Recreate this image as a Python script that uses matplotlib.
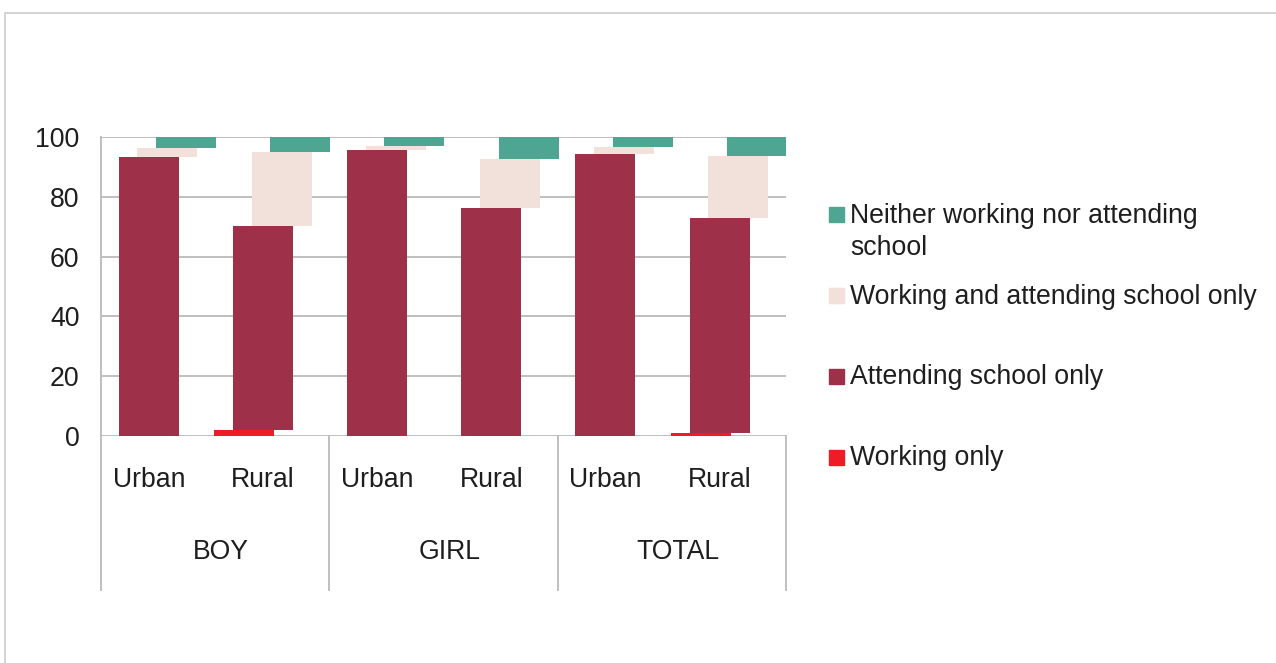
import numpy as np
import matplotlib
matplotlib.use("Agg")
import matplotlib.pyplot as plt
from matplotlib.lines import Line2D
from matplotlib.patches import Rectangle

# ---- data ----
groups = ["BOY", "GIRL", "TOTAL"]
areas = ["Urban", "Rural"]
categories = ["Urban", "Rural", "Urban", "Rural", "Urban", "Rural"]
series_names = ["Working only", "Attending school only",
                "Working and attending school only",
                "Neither working nor attending school"]
working_only = [0.0, 2.0, 0.0, 0.0, 0.0, 1.0]
attending_only = [93.3, 68.3, 95.7, 76.3, 94.3, 72.0]
working_attending = [3.0, 24.7, 1.3, 16.4, 2.4, 20.7]
neither = [3.7, 5.0, 3.0, 7.3, 3.3, 6.3]
yticks = [0, 20, 40, 60, 80, 100]

colors = ["#EE1C25", "#9E3149", "#F2E0DB", "#4DA592"]
text_color = "#1E1E1E"
grid_color = "#BFBFBF"

plt.rcParams['font.family'] = ['Liberation Sans', 'DejaVu Sans']
FS = 19.2

W, H = 1276, 663
fig = plt.figure(figsize=(W / 100, H / 100), dpi=100)
fig.patch.set_facecolor("white")

left, right, top, bottom = 101, 786, 137, 436
ax = fig.add_axes([left / W, 1 - bottom / H, (right - left) / W, (bottom - top) / H])

n = len(categories)
x = np.arange(n) + 0.5
width = 0.5255
offsets = [-0.245, -0.082, 0.082, 0.245]
values = [working_only, attending_only, working_attending, neither]
base = np.zeros(n)
for vals, off, col in zip(values, offsets, colors):
    v = np.array(vals)
    ax.bar(x + off, v, width=width, bottom=base, color=col, zorder=3, linewidth=0)
    base = base + v

ax.set_xlim(0, n)
ax.set_ylim(0, 100)
ax.set_yticks(yticks)
ax.set_yticklabels([str(t) for t in yticks], fontsize=FS, color=text_color)
ax.tick_params(axis='y', length=0, pad=15.5)
ax.set_xticks([])
for s in ax.spines.values():
    s.set_visible(False)
ax.yaxis.grid(True, color=grid_color, linewidth=1.4, zorder=0)
ax.set_axisbelow(True)

# axis frame lines (multi-level category axis)
lo = (bottom - 590) / (bottom - top)
trans = ax.get_xaxis_transform()
for xs in [0, 2, 4, 6]:
    ax.add_line(Line2D([xs, xs], [lo, 0 if xs != 0 else 1], transform=trans,
                       color=grid_color, linewidth=1.4, clip_on=False, zorder=4))

# category labels
cat_y = (bottom - 480) / (bottom - top)
grp_y = (bottom - 552) / (bottom - top)
for xi, lab in zip(x, categories):
    ax.text(xi - 0.08, cat_y, lab, transform=trans, ha='center', va='center',
            fontsize=FS, color=text_color)
for gi, g in enumerate(groups):
    ax.text(2 * gi + 1 + 0.05, grp_y, g, transform=trans, ha='center', va='center',
            fontsize=FS, color=text_color)

# legend (manual)
leg_entries = [("Neither working nor attending\nschool", colors[3], 215),
               ("Working and attending school only", colors[2], 296),
               ("Attending school only", colors[1], 376),
               ("Working only", colors[0], 457)]
for label, col, yc in leg_entries:
    fig.patches.append(Rectangle((829 / W, 1 - (yc + 7.5) / H), 15 / W, 15 / H,
                                 transform=fig.transFigure, color=col))
    if "\n" in label:
        l1, l2 = label.split("\n")
        fig.text(850 / W, 1 - (yc + 1) / H, l1, ha='left', va='center', fontsize=FS, color=text_color)
        fig.text(850 / W, 1 - (yc + 33) / H, l2, ha='left', va='center', fontsize=FS, color=text_color)
    else:
        fig.text(850 / W, 1 - (yc + 1) / H, label, ha='left', va='center', fontsize=FS, color=text_color)

# outer border (partially visible)
fig.add_artist(Line2D([5 / W, 5 / W, 1.0], [0.0, 1 - 13 / H, 1 - 13 / H],
                      transform=fig.transFigure, color="#D0D0D0", linewidth=1.3))

fig.savefig("out.png", dpi=100, facecolor="white")
